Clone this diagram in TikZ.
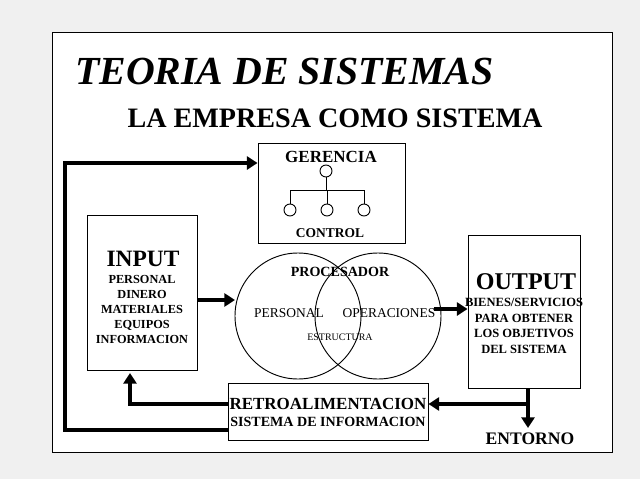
\documentclass[tikz,border=0pt]{standalone}
\usepackage{fontspec}
\setmainfont{Liberation Serif}
\usetikzlibrary{arrows.meta}
\begin{document}
\begin{tikzpicture}[x=0.03cm,y=-0.03cm,
 box/.style={draw,line width=0.8pt,fill=white},
 thick arrow/.style={line width=3pt,-{Triangle[length=9pt,width=11pt]}},
 t/.style={font=\bfseries\fontsize{8.5}{9}\selectfont,inner sep=0pt}]
\useasboundingbox (0,0) rectangle (640,479);
\fill[gray!12] (0,0) rectangle (640,479);
\fill[white,draw=black,line width=0.8pt] (52,32) rectangle (612,452);
\node[font=\bfseries\itshape\fontsize{34}{36}\selectfont,anchor=west,inner sep=0pt] (title) at (75,72) {TEORIA DE SISTEMAS};
\node[font=\bfseries\fontsize{24}{26}\selectfont,inner sep=0pt] (sub) at (335,118) {LA EMPRESA COMO SISTEMA};
% gerencia
\node[box,minimum width=147*0.03cm,minimum height=100*0.03cm] (ger) at (331.5,193) {};
\node[t,font=\bfseries\fontsize{14.5}{15}\selectfont] (gt) at (331,157) {GERENCIA};
\node[draw,circle,minimum size=12*0.03cm,inner sep=0pt,line width=0.8pt] (c0) at (326,171) {};
\node[draw,circle,minimum size=12*0.03cm,inner sep=0pt,line width=0.8pt] (c1) at (290,210) {};
\node[draw,circle,minimum size=12*0.03cm,inner sep=0pt,line width=0.8pt] (c2) at (327,210) {};
\node[draw,circle,minimum size=12*0.03cm,inner sep=0pt,line width=0.8pt] (c3) at (364,210) {};
\coordinate (h1) at (290,190); \coordinate (h3) at (364,190); \coordinate (hm) at (326,190);
\draw[line width=0.8pt] (c0) -- (hm) (h1) -- (h3) (h1) -- (c1) (h3) -- (c3) (c2) -- (c2|-hm);
\node[t,font=\bfseries\fontsize{11.5}{12}\selectfont] (ct) at (330,233) {CONTROL};
% input
\node[box,minimum width=110*0.03cm,minimum height=155*0.03cm] (in) at (142,292.5) {};
\node[t,font=\bfseries\fontsize{20}{21}\selectfont] (it) at (143,259) {INPUT};
\node[t,align=center,font=\bfseries\fontsize{10.5}{12.8}\selectfont] (il) at (142,309) {PERSONAL\\DINERO\\MATERIALES\\EQUIPOS\\INFORMACION};
% processor
\node[draw,circle,minimum size=126*0.03cm,line width=0.8pt] (L) at (298,316) {};
\node[draw,circle,minimum size=126*0.03cm,line width=0.8pt] (R) at (378,316) {};
\node[t,font=\bfseries\fontsize{12}{12}\selectfont] (pt) at (340,272) {PROCESADOR};
\node[t,font=\fontsize{11.5}{12}\selectfont] (pp) at (289,313) {PERSONAL};
\node[t,font=\fontsize{11.5}{12}\selectfont] (po) at (389,313) {OPERACIONES};
\node[t,font=\fontsize{8.5}{9}\selectfont] (pe) at (340,337) {ESTRUCTURA};
% output
\node[box,minimum width=112*0.03cm,minimum height=153*0.03cm] (out) at (524,311.5) {};
\node[t,font=\bfseries\fontsize{20.5}{21}\selectfont] (ot) at (526,282) {OUTPUT};
\node[t,align=center,font=\bfseries\fontsize{10.7}{13.3}\selectfont] (ol) at (524,326) {BIENES/SERVICIOS\\PARA OBTENER\\LOS OBJETIVOS\\DEL SISTEMA};
% retro
\node[box,minimum width=200*0.03cm,minimum height=57*0.03cm] (ret) at (328,411.5) {};
\node[t,font=\bfseries\fontsize{14.5}{15}\selectfont] (rt) at (328,404) {RETROALIMENTACION};
\node[t,font=\bfseries\fontsize{12}{12}\selectfont] (rs) at (328,422) {SISTEMA DE INFORMACION};
\node[t,font=\bfseries\fontsize{15}{15}\selectfont] (ent) at (530,439) {ENTORNO};
% arrows
\coordinate (od) at (528,388);
\draw[thick arrow] (in.east|-0,300) -- (235,300);
\draw[thick arrow] (434,309) -- (out.west|-0,309);
\draw[thick arrow] (od) -- (528,428);
\draw[thick arrow] (528,404) -- (ret.east|-0,404);
\draw[thick arrow] (ret.west|-0,404) -- (130,404) -- (130,373);
\draw[thick arrow] (ret.west|-0,430) -- (65,430) -- (65,163) -- (ger.west|-0,163);
\end{tikzpicture}
\end{document}
